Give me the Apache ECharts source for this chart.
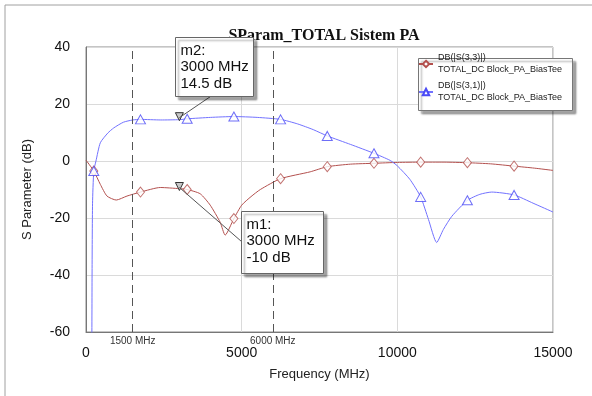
<!DOCTYPE html>
<html>
<head>
<meta charset="utf-8">
<style>
	html, body {margin: 0; padding: 0; background: #fff;}
	#chart {width: 592px; height: 396px;}
</style>
<script src="https://cdn.jsdelivr.net/npm/echarts@6/dist/echarts.min.js"></script>
</head>
<body>
<div id="chart"></div>
<script>
// S(3,3) reflection, MHz / dB
const s33Freq = [0, 250, 460, 674, 972, 1316, 1750, 2385, 3000, 3250, 3668, 3990, 4310, 4470, 4750, 5000, 5300, 5600, 6250, 7200, 7750, 8500, 9250, 10000, 10750, 11500, 12250, 13000, 13750, 14400, 15000];
const s33Db = [0.3, -3.5, -8.2, -12.3, -13.7, -12.3, -10.9, -9.3, -9.7, -10.0, -11.5, -15.5, -21.5, -26, -20.2, -15.5, -12.5, -10, -6.2, -3.8, -2.0, -1.1, -0.8, -0.5, -0.4, -0.4, -0.6, -1.0, -1.8, -2.5, -3.3];

// S(3,1) transmission, MHz / dB
const s31Freq = [188, 195, 210, 250, 320, 460, 700, 890, 1200, 1500, 1750, 2400, 3000, 3250, 4000, 4750, 5500, 6250, 6800, 7300, 7750, 8500, 9250, 9770, 10000, 10400, 10750, 11000, 11264, 11480, 11750, 12250, 12650, 13030, 13750, 14360, 15000];
const s31Db = [-65, -40, -15, -3.5, 0, 6.4, 9.8, 11.6, 13.6, 14.4, 14.6, 14.4, 14.5, 14.8, 15.3, 15.6, 15.3, 14.6, 13, 11, 8.8, 5.8, 2.7, 0.2, -1.7, -6.4, -12.6, -20.5, -28.6, -24, -19.4, -13.8, -11.7, -10.9, -11.9, -14.8, -17.9];

// frequencies where the trace symbols sit
const symbolFreq = [250, 1750, 3250, 4750, 6250, 7750, 9250, 10750, 12250, 13750];

// markers m1 / m2
const markerNames = ['m1', 'm2'];
const markerFreq = [3000, 3000];
const markerDb = [-10, 14.5];

// dashed frequency lines
const vLines = [1500, 6000];

const traceNames = ['DB(|S(3,3)|)', 'DB(|S(3,1)|)'];
const traceSub = 'TOTAL_DC Block_PA_BiasTee';

const RED = '#b3504e';
const BLUE = '#7272ff';
const BLUE_SYM = '#4a4af5';

const pairs = (fx, fy) => fx.map((f, i) => [f, fy[i]]);
const s33 = pairs(s33Freq, s33Db);
const s31 = pairs(s31Freq, s31Db);
const pick = (arr) => arr.filter(p => symbolFreq.indexOf(p[0]) >= 0);

const chart = echarts.init(document.getElementById('chart'), null, {renderer: 'canvas'});

const font = 'Arial, "Liberation Sans", sans-serif';

chart.setOption({
	animation: false,
	title: {
		text: 'SParam_TOTAL Sistem PA',
		left: 319,
		top: 23,
		textAlign: 'center',
		textStyle: {
			fontFamily: '"Liberation Serif", "Times New Roman", serif',
			fontWeight: 'bold',
			fontSize: 16,
			color: '#111'
		}
	},
	legend: {
		left: 418,
		top: 46,
		orient: 'vertical',
		padding: 0,
		itemGap: -8,
		itemWidth: 14,
		itemHeight: 8,
		data: traceNames,
		formatter: name => name + '\n' + traceSub,
		textStyle: {
			fontFamily: font,
			fontSize: 9,
			lineHeight: 12,
			padding: [12, 0, 0, 0],
			color: '#222'
		}
	},
	grid: {
		left: 86,
		right: 39,
		top: 47,
		bottom: 64,
		show: true,
		borderColor: '#8a8a8a',
		borderWidth: 1
	},
	xAxis: {
		type: 'value',
		min: 0,
		max: 15000,
		interval: 5000,
		name: 'Frequency (MHz)',
		nameLocation: 'middle',
		nameGap: 36,
		nameTextStyle: {fontFamily: font, fontSize: 13, color: '#222'},
		axisLine: {show: true, onZero: false, lineStyle: {color: '#777'}},
		axisTick: {show: false},
		axisLabel: {fontFamily: font, fontSize: 14, color: '#111', margin: 14, formatter: v => String(v)},
		splitLine: {lineStyle: {color: '#dadada'}}
	},
	yAxis: {
		type: 'value',
		min: -60,
		max: 40,
		interval: 20,
		name: 'S Parameter (dB)',
		nameLocation: 'middle',
		nameGap: 52,
		nameTextStyle: {fontFamily: font, fontSize: 13, color: '#222'},
		axisLine: {show: true, onZero: false, lineStyle: {color: '#777'}},
		axisTick: {show: false},
		axisLabel: {fontFamily: font, fontSize: 14, color: '#111', margin: 16},
		splitLine: {lineStyle: {color: '#dadada'}}
	},
	series: [
		{
			name: traceNames[0],
			type: 'line',
			data: s33,
			smooth: 0.2,
			symbol: 'emptyDiamond',
			showSymbol: false,
			lineStyle: {color: RED, width: 1},
			itemStyle: {color: RED},
			z: 3,
			markLine: {
				silent: true,
				symbol: 'none',
				lineStyle: {color: '#555', type: [8, 5], width: 1},
				label: {
					position: 'start',
					distance: 4,
					fontFamily: font,
					fontSize: 10,
					color: '#333',
					formatter: p => p.value + ' MHz'
				},
				data: vLines.map(v => ({xAxis: v}))
			},
			markPoint: {
				symbol: 'triangle',
				symbolSize: 8,
				symbolRotate: 180,
				symbolOffset: [0, -3],
				itemStyle: {color: '#c8c8c8', borderColor: '#333', borderWidth: 1},
				label: {show: false},
				data: [{coord: [markerFreq[0], markerDb[0]]}]
			}
		},
		{
			name: traceNames[0],
			type: 'scatter',
			data: pick(s33),
			symbol: 'diamond',
			symbolSize: [8, 10],
			itemStyle: {color: '#fff', borderColor: RED, borderWidth: 1},
			z: 4
		},
		{
			name: traceNames[1],
			type: 'line',
			data: s31,
			smooth: 0.2,
			symbol: 'emptyTriangle',
			showSymbol: false,
			lineStyle: {color: BLUE, width: 1},
			itemStyle: {color: BLUE_SYM},
			z: 3,
			markPoint: {
				symbol: 'triangle',
				symbolSize: 8,
				symbolRotate: 180,
				symbolOffset: [0, -3],
				itemStyle: {color: '#c8c8c8', borderColor: '#333', borderWidth: 1},
				label: {show: false},
				data: [{coord: [markerFreq[1], markerDb[1]]}]
			}
		},
		{
			name: traceNames[1],
			type: 'scatter',
			data: pick(s31),
			symbol: 'triangle',
			symbolSize: [10, 9],
			itemStyle: {color: '#fff', borderColor: BLUE_SYM, borderWidth: 1},
			z: 4
		}
	]
});

// marker boxes, placed relative to the marker points
const boxLayout = [
	{dx: 62, dy: 21, w: 82, h: 62, anchor: [0, 30]},   // m1: box to lower right, leader hits left side
	{dx: -4, dy: -83, w: 78, h: 59, anchor: [35, 59]}  // m2: box above, leader hits bottom
];

const graphics = [
	{type: 'line', shape: {x1: 5, y1: 5, x2: 600, y2: 5}, style: {stroke: '#a0a0a0', lineWidth: 1}, silent: true},
	{type: 'line', shape: {x1: 5, y1: 5, x2: 5, y2: 400}, style: {stroke: '#a0a0a0', lineWidth: 1}, silent: true},
	{
		type: 'rect',
		shape: {x: 418.5, y: 58.5, width: 154, height: 52},
		style: {fill: '#fff', stroke: '#777', lineWidth: 1, shadowBlur: 2, shadowOffsetX: 3, shadowOffsetY: 3, shadowColor: 'rgba(0,0,0,0.35)'},
		z: 3,
		silent: true
	}
];

markerNames.forEach((m, i) => {
	const [px, py] = chart.convertToPixel({gridIndex: 0}, [markerFreq[i], markerDb[i]]);
	const b = boxLayout[i];
	const bx = Math.round(px + b.dx) + 0.5;
	const by = Math.round(py + b.dy) + 0.5;
	graphics.push({
		type: 'line',
		shape: {x1: px, y1: py - 2, x2: bx + b.anchor[0], y2: by + b.anchor[1]},
		style: {stroke: '#555', lineWidth: 1},
		z: 20,
		silent: true
	});
	graphics.push({
		type: 'rect',
		shape: {x: bx, y: by, width: b.w, height: b.h},
		style: {fill: '#fff', stroke: '#666', lineWidth: 1, shadowBlur: 2, shadowOffsetX: 3, shadowOffsetY: 3, shadowColor: 'rgba(0,0,0,0.35)'},
		z: 21,
		silent: true
	});
	graphics.push({
		type: 'text',
		x: bx + 5,
		y: by + 5,
		style: {
			text: m + ':\n' + markerFreq[i] + ' MHz\n' + markerDb[i] + ' dB',
			fontFamily: font,
			fontSize: 15,
			lineHeight: 16.5,
			fill: '#111'
		},
		z: 22,
		silent: true
	});
});

chart.setOption({graphic: graphics});
</script>
</body>
</html>
